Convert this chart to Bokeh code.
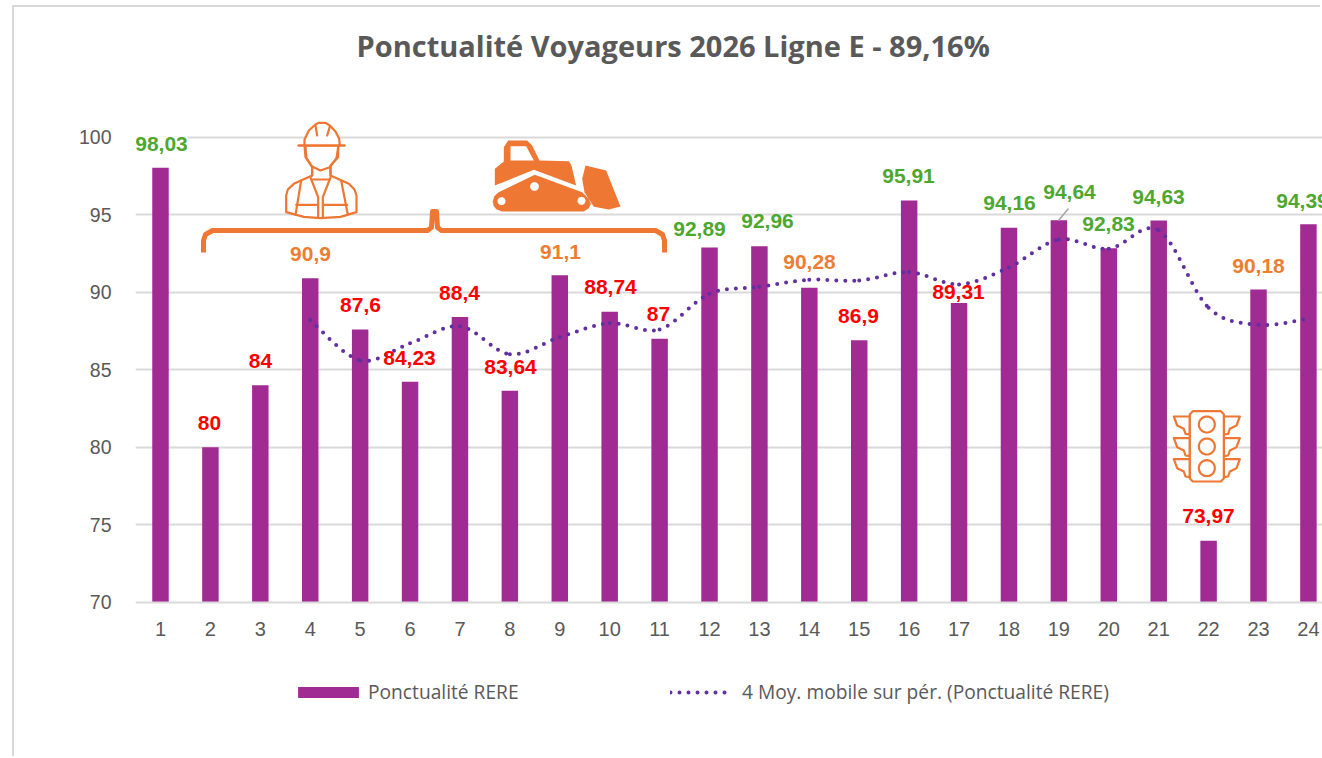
from bokeh.plotting import figure
from bokeh.models import ColumnDataSource, Legend, LegendItem, FixedTicker, Title
from bokeh.core.properties import value
from bokeh.embed import file_html
from bokeh.resources import INLINE
import math

# ---------- data ----------
weeks = list(range(1, 25))
ponctualite = [98.03, 80, 84, 90.9, 87.6, 84.23, 88.4, 83.64, 91.1, 88.74, 87, 92.89,
               92.96, 90.28, 86.9, 95.91, 89.31, 94.16, 94.64, 92.83, 94.63, 73.97, 90.18, 94.39]
value_labels = ["98,03", "80", "84", "90,9", "87,6", "84,23", "88,4", "83,64", "91,1", "88,74", "87", "92,89",
                "92,96", "90,28", "86,9", "95,91", "89,31", "94,16", "94,64", "92,83", "94,63", "73,97", "90,18", "94,39"]
ma_weeks = list(range(4, 25))
moyenne_mobile = [88.2, 85.6, 86.7, 87.8, 86.0, 87.1, 88.0, 87.6, 89.9, 90.35, 90.8, 90.75,
                  91.3, 90.5, 91.6, 93.4, 92.8, 94.0, 89.0, 87.9, 88.3]
y_ticks = [70, 75, 80, 85, 90, 95, 100]

# ---------- layout (page pixels) ----------
X1, DX = 160.0, 49.91
Y70, DY = 601.7, 15.5
def dx(px): return 1 + (px - X1) / DX
def dy(py): return 70 + (Y70 - py) / DY
def page_x(v): return X1 + (v - 1) * DX
def page_y(v): return Y70 - (v - 70) * DY

OFF_X, OFF_Y = 14, 7
W, H = 1322 - OFF_X, 758 - OFF_Y
FRAME_L, FRAME_T, FRAME_R, FRAME_B = 135, 65, 1322, 758

label_px = [161, 209, 260, 310, 360, 409, 459, 510, 560, 610, 658, 699,
            767, 809, 858, 908, 958, 1009, 1069, 1108, 1158, 1208, 1258, 1302]
label_py = [143, 422, 360, 253, 304, 357, 292, 366, 251, 286, 313, 228,
            220, 262, 315, 175, 291, 202, 191, 223, 196, 516, 265, 200]

GREEN, ORANGE, RED = "#4EA72E", "#ED7D31", "#FF0000"
GREY = "#595959"; GRID = "#D9D9D9"; BAR = "#A02B93"; MA = "#6030A0"

p = figure(width=W, height=H, output_backend="svg", toolbar_location=None,
           x_range=(dx(FRAME_L), dx(FRAME_R)), y_range=(dy(FRAME_B), dy(FRAME_T)),
           min_border_left=FRAME_L - OFF_X, min_border_right=0,
           min_border_top=FRAME_T - OFF_Y, min_border_bottom=0)
p.styles = {"margin-left": f"{OFF_X}px", "margin-top": f"{OFF_Y}px", "box-shadow": f"-2px -2px 0 0 {GRID}"}
p.outline_line_color = None
p.background_fill_color = "white"
p.border_fill_color = "white"

p.title = Title(text="Ponctualité Voyageurs 2026 Ligne E - 89,16%", align="left", offset=356 - FRAME_L,
                text_font="Open Sans", text_font_size="29px", text_font_style="bold", text_color=GREY, standoff=2)

for ax in (p.xaxis[0], p.yaxis[0]):
    ax.major_tick_line_color = None
    ax.minor_tick_line_color = None
    ax.major_label_text_color = GREY
    ax.major_label_text_font = "Liberation Sans"
p.xaxis[0].major_label_text_font_size = "20px"
p.yaxis[0].major_label_text_font_size = "19.5px"
p.yaxis[0].axis_line_color = None
p.yaxis[0].ticker = FixedTicker(ticks=y_ticks)
p.yaxis[0].major_label_standoff = 18
p.xaxis[0].ticker = FixedTicker(ticks=weeks)
p.xaxis[0].fixed_location = 70
p.xaxis[0].axis_line_color = GRID
p.xaxis[0].axis_line_width = 2
p.xaxis[0].major_label_standoff = 14
p.xgrid.visible = False
p.ygrid[0].ticker = FixedTicker(ticks=y_ticks[1:])
p.ygrid[0].grid_line_color = GRID
p.ygrid[0].grid_line_width = 2

# ---------- bars ----------
bars = p.vbar(x=weeks, top=ponctualite, bottom=70, width=0.33, fill_color=BAR, line_color=None)

# ---------- smoothed moving average, one bezier per interval ----------
n = len(ma_weeks)
x0, y0, x1, y1, cx0, cy0, cx1, cy1 = [], [], [], [], [], [], [], []
for i in range(n - 1):
    a, b, c, d = max(i - 1, 0), i, i + 1, min(i + 2, n - 1)
    x0.append(ma_weeks[b]); y0.append(moyenne_mobile[b])
    x1.append(ma_weeks[c]); y1.append(moyenne_mobile[c])
    cx0.append(ma_weeks[b] + (ma_weeks[c] - ma_weeks[a]) / 6); cy0.append(moyenne_mobile[b] + (moyenne_mobile[c] - moyenne_mobile[a]) / 6)
    cx1.append(ma_weeks[c] - (ma_weeks[d] - ma_weeks[b]) / 6); cy1.append(moyenne_mobile[c] - (moyenne_mobile[d] - moyenne_mobile[b]) / 6)
ma_line = p.bezier(x0=x0, y0=y0, x1=x1, y1=y1, cx0=cx0, cy0=cy0, cx1=cx1, cy1=cy1,
                   line_color=MA, line_width=4, line_dash="0 9", line_cap="round")

# ---------- icons (drawn in page pixels, converted by the scales' helpers) ----------
ICON = "#EE7733"
def ix(pts, ox, s=1/3): return [dx(ox + q[0] * s) for q in pts]
def iy(pts, oy, s=1/3): return [dy(oy + q[1] * s) for q in pts]
def stroke(pts, ox, oy, width=2.2, fill=None):
    if fill:
        p.patch(ix(pts, ox), iy(pts, oy), fill_color=fill, line_color=ICON, line_width=width, line_join="round")
    else:
        p.line(ix(pts, ox), iy(pts, oy), line_color=ICON, line_width=width, line_join="round", line_cap="round")
def circle_pts(cx, cy, r, k=28):
    return [(cx + r * math.cos(2 * math.pi * j / k), cy + r * math.sin(2 * math.pi * j / k)) for j in range(k)]

# worker
OX, OY = 270, 115
stroke([(125,180),(70,205),(52,222),(47,240),(47,290),(100,304),(150,308),(210,304),(258,290),(258,240),(252,222),(235,205),(180,180),(180,150),(203,125),(203,90),
        (222,90),(84,90),(102,90),(105,125),(125,155)], OX, OY, fill="white")
stroke([(102,90),(102,72),(115,45),(135,27),(145,22),(165,22),(178,30),(195,48),(206,70),(208,90)], OX, OY, fill="white")
stroke([(84,90),(222,90)], OX, OY)
stroke([(135,30),(140,60)], OX, OY); stroke([(178,33),(170,60)], OX, OY)
stroke([(105,95),(108,128),(125,153),(150,165),(178,155),(198,128),(203,95)], OX, OY)
stroke([(125,155),(125,180)], OX, OY); stroke([(180,155),(180,180)], OX, OY)
stroke([(120,186),(143,245),(143,306)], OX, OY); stroke([(180,186),(157,245),(157,306)], OX, OY)
stroke([(125,192),(175,192)], OX, OY)
stroke([(92,195),(75,298)], OX, OY); stroke([(212,195),(232,298)], OX, OY)
stroke([(77,268),(143,268)], OX, OY); stroke([(157,268),(230,268)], OX, OY)

# bulldozer
OX, OY = 485, 135
body = [(28,100),(55,78),(55,35),(68,15),(125,15),(140,30),(162,75),(250,77),(258,90),(272,150),(145,103),(28,150)]
cab = [(75,32),(122,32),(145,75),(75,75)]
track = [(22,197),(26,183),(38,171),(148,118),(290,170),(310,190),(316,205),(310,218),(295,228),(50,228),(32,221),(24,210)]
blade = [(300,90),(362,105),(405,213),(370,222),(325,214),(297,170),(290,130)]
for shape, col in ((body, ICON), (cab, "white"), (track, ICON), (blade, ICON),
                   (circle_pts(48,197,12), "white"), (circle_pts(147,153,13), "white"), (circle_pts(288,196,12), "white")):
    p.patch(ix(shape, OX), iy(shape, OY), fill_color=col, line_color=None)

# traffic light
OX, OY = 1165, 400
for off in (0, 65, 128):
    stroke([(73,48+off),(25,48+off),(35,75+off),(55,85+off),(60,100+off),(73,102+off)], OX, OY, fill="white")
    stroke([(175,48+off),(223,48+off),(213,75+off),(193,85+off),(188,100+off),(175,102+off)], OX, OY, fill="white")
stroke([(82,32),(166,32),(175,41),(175,234),(166,243),(82,243),(73,234),(73,41)], OX, OY, fill="white")
for cy in (72, 138, 203):
    stroke(circle_pts(124, cy, 24), OX, OY, fill="white")

# brace
brace = [(203,252),(203,240),(205,234),(212,230),(427,230),(431,227),(432,211),(436,211),(437,227),(441,230),(655,230),(662,234),(664,240),(664,252)]
p.line([dx(q[0]) for q in brace], [dy(q[1]) for q in brace], line_color=ICON, line_width=5, line_join="round")

# leader line of the label 94,64
p.line([dx(1058), dx(1068)], [dy(220), dy(208)], line_color="#A6A6A6", line_width=1.5)

# ---------- value labels ----------
def label_colour(v):
    return GREEN if v >= 92 else (ORANGE if v >= 90 else RED)
src = ColumnDataSource(dict(
    x=weeks, y=ponctualite, text=value_labels,
    xo=[label_px[i] - page_x(weeks[i]) for i in range(24)],
    yo=[label_py[i] - page_y(ponctualite[i]) for i in range(24)],
    col=[label_colour(v) for v in ponctualite],
    bg=["#ffffff" if i == 0 else "rgba(255,255,255,0)" for i in range(24)],
))
p.text(x="x", y="y", text="text", x_offset="xo", y_offset="yo", text_color="col", source=src,
       background_fill_color="bg", text_align="center", text_baseline="middle",
       text_font=value("Liberation Sans"), text_font_style="bold", text_font_size="21px")

# ---------- legends ----------
common = dict(padding=0, margin=0, border_line_color=None, background_fill_alpha=0, orientation="horizontal",
              label_text_font="Open Sans", label_text_font_size="19.2px", label_text_color=GREY)
legend_bar = Legend(items=[LegendItem(label="Ponctualité RERE", renderers=[bars], index=0)],
                    location=(290 - FRAME_L, FRAME_B - 705), glyph_width=76, glyph_height=14,
                    label_standoff=2, **common)
legend_ma = Legend(items=[LegendItem(label="4 Moy. mobile sur pér. (Ponctualité RERE)", renderers=[ma_line], index=0)],
                   location=(670 - FRAME_L, FRAME_B - 705), glyph_width=63, glyph_height=14,
                   label_standoff=9, **common)
p.add_layout(legend_bar, "center")
p.add_layout(legend_ma, "center")

open("out.html", "w").write(file_html(p, INLINE))
